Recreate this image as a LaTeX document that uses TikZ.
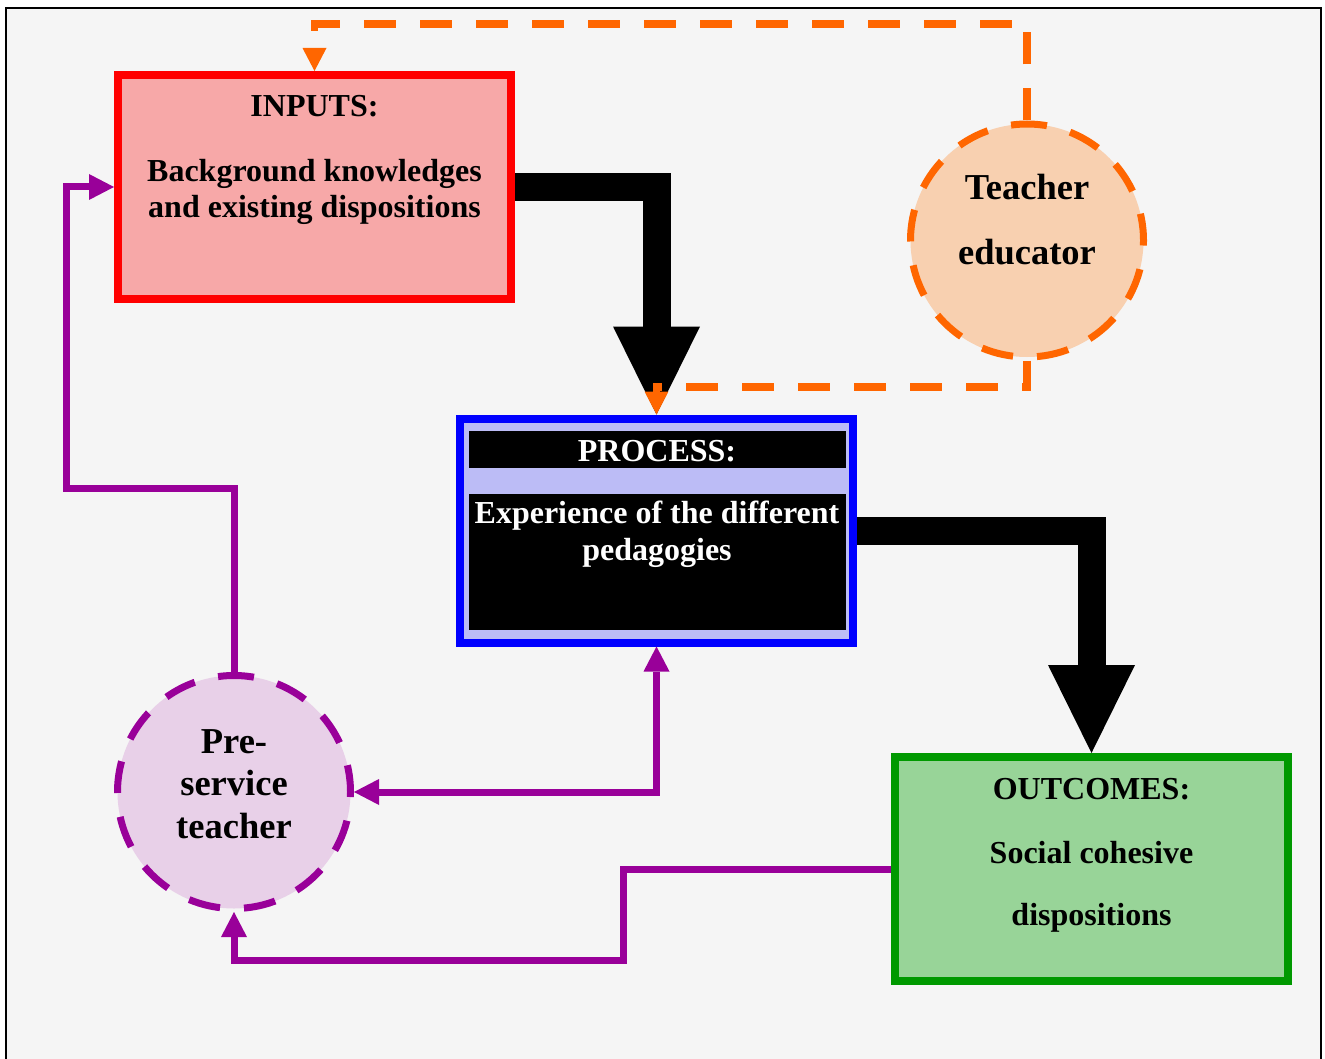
\documentclass[tikz,border=0pt]{standalone}
\usepackage{fontspec}
\setmainfont{Liberation Serif}
\usetikzlibrary{arrows.meta}
\definecolor{bggray}{HTML}{F5F5F5}
\definecolor{inred}{HTML}{FF0000}
\definecolor{inpink}{HTML}{F7A8A8}
\definecolor{prblue}{HTML}{0000FF}
\definecolor{prlav}{HTML}{BCBCF6}
\definecolor{ougreen}{HTML}{009900}
\definecolor{oufill}{HTML}{98D498}
\definecolor{teorange}{HTML}{FF6600}
\definecolor{tepeach}{HTML}{F8D0B0}
\definecolor{pspurple}{HTML}{990099}
\definecolor{psfill}{HTML}{E8D0E8}
\tikzset{
  boxnode/.style={rectangle, line width=8pt, minimum width=393pt, minimum height=224pt, inner sep=0pt},
  personnode/.style={circle, minimum size=233pt, inner sep=0pt, outer sep=3.5pt},
  personring/.style={line width=7pt, dash pattern=on 32pt off 24pt, dash phase=16pt},
  txt/.style={anchor=base, inner sep=0pt, font=\bfseries\fontsize{32}{37}\selectfont},
  bigtxt/.style={anchor=base, inner sep=0pt, font=\bfseries\fontsize{36.5}{42}\selectfont},
  bigarrow/.style={line width=28pt, -{Triangle[length=88pt,width=87pt,line width=0pt]}},
  orangelink/.style={draw=teorange, line width=7.5pt, dash pattern=on 32pt off 24pt, -{Triangle[length=23pt,width=24pt,line width=0pt]}},
  purplelink/.style={draw=pspurple, line width=7pt, -{Triangle[length=25pt,width=26pt,line width=0pt]}},
}
\begin{document}
\begin{tikzpicture}[x=1pt,y=-1pt]
\fill[white, use as bounding box] (0,0) rectangle (1325,1059);
\draw[line width=2pt, fill=bggray] (6,8) rectangle (1321,1075);

% boxes
\node[boxnode, draw=inred, fill=inpink] (inputs) at (314.5,187) {};
\node[boxnode, draw=prblue, fill=prlav] (process) at (656.5,530.5) {};
\node[rectangle, fill=black, minimum width=377pt, minimum height=37pt, inner sep=0pt] (prhead) at (657.5,449.5) {};
\node[rectangle, fill=black, minimum width=377pt, minimum height=136pt, inner sep=0pt] (prbody) at (657.5,562) {};
\node[boxnode, draw=ougreen, fill=oufill, minimum height=224pt] (outcomes) at (1091.5,869) {};

% person circles (dashed ring drawn from the top)
\node[personnode, fill=tepeach] (teacher) at (1027,240.5) {};
\draw[personring, draw=teorange] (teacher.center) ++(0,-116.5) arc[start angle=90, delta angle=360, radius=116.5pt];
\node[personnode, fill=psfill] (pre) at (234,792) {};
\draw[personring, draw=pspurple] (pre.center) ++(0,-116.5) arc[start angle=90, delta angle=360, radius=116.5pt];

% texts
\node[txt] (t1) at (314.5,117) {INPUTS:};
\node[txt] (t2) at (314.5,182) {Background knowledges};
\node[txt] (t3) at (314.5,218) {and existing dispositions};
\node[txt, text=white] (t4) at (657,461) {PROCESS:};
\node[txt, text=white] (t5) at (657,523) {Experience of the different};
\node[txt, text=white] (t6) at (657,560) {pedagogies};
\node[txt] (t7) at (1091.5,799) {OUTCOMES:};
\node[txt] (t8) at (1091.5,863) {Social cohesive};
\node[txt] (t9) at (1091.5,925) {dispositions};
\node[bigtxt] (t10) at (1027,200) {Teacher};
\node[bigtxt] (t11) at (1027,265) {educator};
\node[bigtxt] (t12) at (234,753) {Pre-};
\node[bigtxt] (t13) at (234,795) {service};
\node[bigtxt] (t14) at (234,838) {teacher};

% black arrows
\draw[bigarrow] (inputs.east) -| (process.north);
\draw[bigarrow] (process.east) -| (outcomes.north);

% orange dashed links
\coordinate (otop) at (1027,24);
\coordinate (obot) at (1027,387);
\draw[orangelink] (teacher.north) -- (otop) -| (inputs.north);
\draw[orangelink] (teacher.south) -- (obot) -| (process.north);

% purple links
\coordinate (pc1) at (66,488);
\coordinate (pc2) at (623,960);
\draw[purplelink] (pre.north) |- (pc1) |- (inputs.west);
\draw[purplelink] (outcomes.west) -| (pc2) -| (pre.south);
\draw[purplelink, {Triangle[length=25pt,width=26pt,line width=0pt]}-{Triangle[length=25pt,width=26pt,line width=0pt]}] (pre.east) -| (process.south);
\end{tikzpicture}
\end{document}
